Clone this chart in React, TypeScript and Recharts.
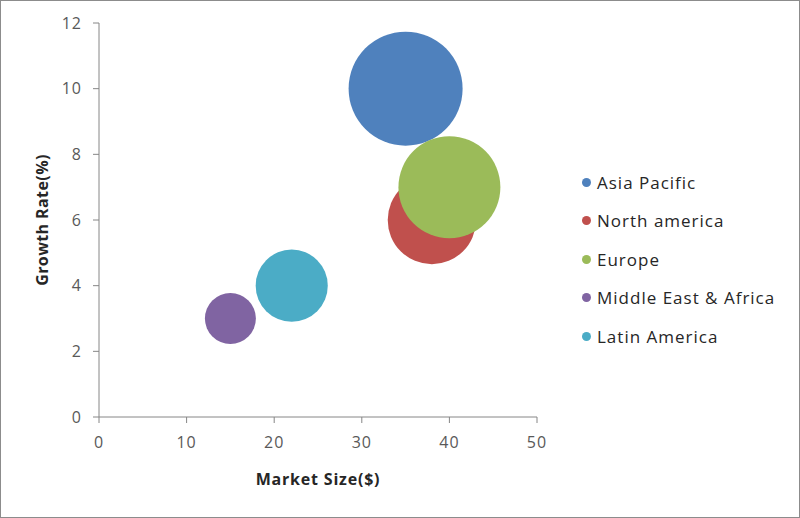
import { ScatterChart, Scatter, XAxis, YAxis, ZAxis } from 'recharts';

const regions = ['Asia Pacific', 'North america', 'Europe', 'Middle East & Africa', 'Latin America'];
const marketSize = [35, 38, 40, 15, 22];
const growthRate = [10, 6, 7, 3, 4];
const bubbleSize = [10, 6, 8, 2, 4];
const colors = ['#4f81bd', '#c0504d', '#9bbb59', '#8064a2', '#4bacc6'];
const xTicks = [0, 10, 20, 30, 40, 50];
const yTicks = [0, 2, 4, 6, 8, 10, 12];

const FONT = '"Open Sans", sans-serif';
const axisColor = '#868686';
// largest bubble radius ~57px -> area
const maxArea = Math.PI * 57 * 57;

export default function App() {
    const series = regions.map((name, i) => ({
        name,
        color: colors[i],
        data: [{ x: marketSize[i], y: growthRate[i], z: bubbleSize[i] }]
    }));

    return (
        <div
            style={{
                position: 'absolute',
                left: 0,
                top: 0,
                width: 800,
                height: 518,
                boxSizing: 'border-box',
                border: '1px solid #8c8c8c',
                background: '#fff',
                fontFamily: FONT
            }}
        >
            <ScatterChart
                width={798}
                height={516}
                margin={{ top: 22, right: 262, bottom: 30, left: 0 }}
                style={{ position: 'absolute', left: 0, top: 0 }}
            >
                <XAxis
                    type="number"
                    dataKey="x"
                    domain={[0, 50]}
                    ticks={xTicks}
                    height={70}
                    tickSize={6}
                    tickMargin={14}
                    stroke={axisColor}
                    tick={{ fill: '#595959', fontSize: 16, fontFamily: FONT, letterSpacing: 1 }}
                    label={{
                        value: 'Market Size($)',
                        position: 'insideBottom',
                        offset: 2,
                        fill: '#262626',
                        fontSize: 16,
                        fontWeight: 'bold',
                        fontFamily: FONT,
                        letterSpacing: 0.8
                    }}
                />
                <YAxis
                    type="number"
                    dataKey="y"
                    domain={[0, 12]}
                    ticks={yTicks}
                    width={98}
                    tickSize={6}
                    tickMargin={11}
                    stroke={axisColor}
                    tick={{ fill: '#595959', fontSize: 16, fontFamily: FONT, letterSpacing: 1 }}
                    label={{
                        value: 'Growth Rate(%)',
                        angle: -90,
                        position: 'insideLeft',
                        offset: 41,
                        style: { textAnchor: 'middle' },
                        fill: '#262626',
                        fontSize: 16,
                        fontWeight: 'bold',
                        fontFamily: FONT,
                        letterSpacing: 0.4
                    }}
                />
                <ZAxis type="number" dataKey="z" domain={[0, 10]} range={[0, maxArea]} />
                {series.map((s) => (
                    <Scatter
                        key={s.name}
                        name={s.name}
                        data={s.data}
                        fill={s.color}
                        isAnimationActive={false}
                    />
                ))}
            </ScatterChart>
            <div style={{ position: 'absolute', left: 581, top: 162 }}>
                {series.map((s) => (
                    <div
                        key={s.name}
                        style={{
                            display: 'flex',
                            alignItems: 'center',
                            height: 38.5,
                            fontSize: 17,
                            color: '#262626',
                            letterSpacing: 1
                        }}
                    >
                        <span
                            style={{
                                display: 'inline-block',
                                width: 9,
                                height: 9,
                                borderRadius: '50%',
                                background: s.color,
                                marginRight: 6
                            }}
                        />
                        {s.name}
                    </div>
                ))}
            </div>
        </div>
    );
}
